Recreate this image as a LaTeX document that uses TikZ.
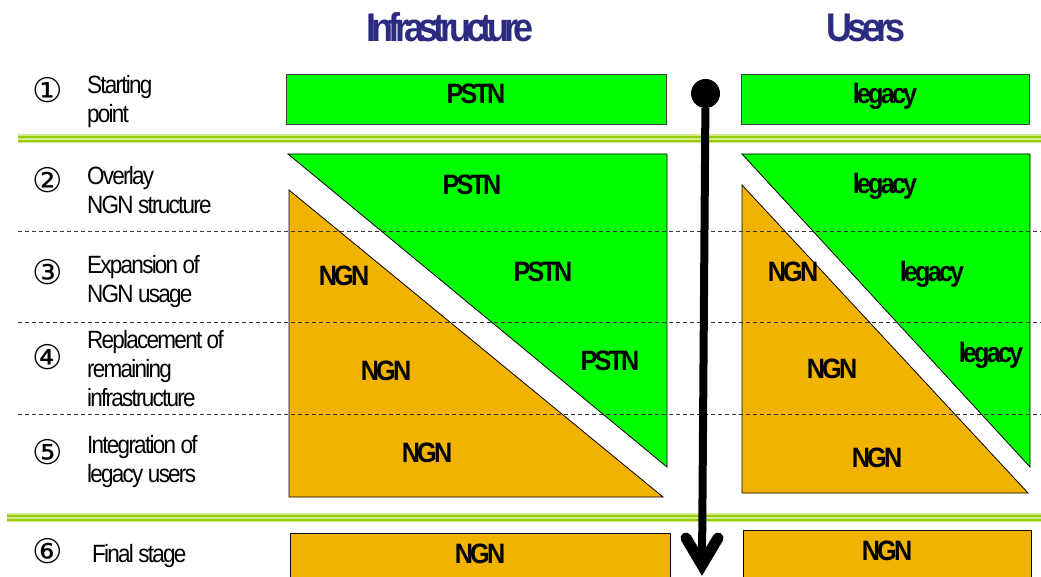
\documentclass[tikz,border=0pt]{standalone}
\usepackage{fontspec}
\setmainfont{Liberation Sans}
\newfontfamily\labelfont[LetterSpace=-7,FakeStretch=0.9]{Liberation Sans}
\newfontfamily\boxfont[LetterSpace=-10,FakeStretch=0.9]{Liberation Sans}
\newfontfamily\titlefont[LetterSpace=-13,FakeStretch=0.9]{Liberation Sans}
\newfontfamily\numfont{DejaVu Sans}
\usepackage{xcolor}
\usepackage{tikz}
\usetikzlibrary{positioning}

\definecolor{pstngreen}{HTML}{00FF00}
\definecolor{ngnorange}{HTML}{F2B200}
\definecolor{titleblue}{HTML}{2B2B80}
\definecolor{rulegreen}{HTML}{99CC00}
\definecolor{rulelight}{HTML}{D2EB8C}

\begin{document}
\begin{tikzpicture}[
  x=1pt, y=-1pt,
  title/.style={font=\titlefont\bfseries\fontsize{40}{40}\selectfont, text=titleblue, inner sep=0pt, text height=29pt, text depth=0pt},
  stagenum/.style={font=\numfont\fontsize{34}{34}\selectfont, inner sep=0pt},
  stagelabel/.style={anchor=north west, align=left, inner sep=0pt, font=\labelfont\fontsize{25}{29}\selectfont},
  box/.style={draw=black!75, line width=0.8pt, minimum height=50pt, inner sep=0pt, font=\boxfont\bfseries\fontsize{28}{28}\selectfont, text height=20pt, text depth=10pt},
  tri/.style={font=\boxfont\bfseries\fontsize{28}{28}\selectfont, inner sep=0pt, text height=20pt, text depth=0pt},
  wedge/.style={draw=black, line width=0.8pt},
  divider/.style={dash pattern=on 4pt off 3pt, line width=0.8pt, black!80},
  shaft/.style={line width=8pt, black},
  head/.style={line width=11pt, line cap=round, line join=miter, black},
]
  \useasboundingbox (0,0) rectangle (1041,577);

  % column titles
  \node[title] (infra) at (450,27) {Infrastructure};
  \node[title] (users) at (866,27) {Users};

  % phase separators
  \fill[rulelight] (18,134.5) rectangle (1041,143.5);
  \fill[rulegreen] (18,136) rectangle (1041,138.5);
  \fill[rulegreen] (18,140) rectangle (1041,142.5);
  \fill[rulelight] (7,513) rectangle (1041,522);
  \fill[rulegreen] (7,514.5) rectangle (1041,517);
  \fill[rulegreen] (7,518.5) rectangle (1041,521);

  % stage 1
  \node[box, fill=pstngreen, minimum width=380pt] (pstnTop) at (476,99) {PSTN};
  \node[box, fill=pstngreen, minimum width=288pt] (legacyTop) at (885,99) {legacy};

  % stages 2-5: migration wedges
  \path[wedge, fill=pstngreen] (288,154) -- (667,154) -- (667,467) -- cycle;
  \path[wedge, fill=ngnorange] (289,190) -- (289,497) -- (663,497) -- cycle;
  \path[wedge, fill=pstngreen] (742,154) -- (1030,154) -- (1030,467) -- cycle;
  \path[wedge, fill=ngnorange] (742,185) -- (742,493) -- (1028,493) -- cycle;

  \node[tri] (pstnA) at (472,185) {PSTN};
  \node[tri] (pstnB) at (543,272) {PSTN};
  \node[tri] (pstnC) at (610,360) {PSTN};
  \node[tri] (ngnA) at (344,276) {NGN};
  \node[tri] (ngnB) at (386,370) {NGN};
  \node[tri] (ngnC) at (427,452) {NGN};
  \node[tri] (legacyA) at (885,184) {legacy};
  \node[tri] (legacyB) at (932,272) {legacy};
  \node[tri] (legacyC) at (991,352) {legacy};
  \node[tri] (ungnA) at (793,271) {NGN};
  \node[tri] (ungnB) at (832,368) {NGN};
  \node[tri] (ungnC) at (877,457) {NGN};

  % stage 6
  \node[box, fill=ngnorange, draw=black, minimum width=380pt] (ngnBottom) at (480,558) {NGN};
  \node[box, fill=ngnorange, draw=black, minimum width=288pt] (ungnBottom) at (887,555) {NGN};

  % stage dividers
  \foreach \y in {231,322,414}
    \draw[divider] (18,\y) -- (1041,\y);

  % stage numbers and names
  \node[stagenum] (n1) at (48,90) {①};
  \node[stagenum] (n2) at (48,180) {②};
  \node[stagenum] (n3) at (48,272) {③};
  \node[stagenum] (n4) at (48,357) {④};
  \node[stagenum] (n5) at (48,452) {⑤};
  \node[stagenum] (n6) at (48,551) {⑥};

  \node[stagelabel] (s1) at (87,75) {Starting\\point};
  \node[stagelabel] (s2) at (87,166) {Overlay\\NGN structure};
  \node[stagelabel] (s3) at (87,255) {Expansion of\\NGN usage};
  \node[stagelabel] (s4) at (87,330) {Replacement of\\remaining\\infrastructure};
  \node[stagelabel] (s5) at (87,435) {Integration of\\legacy users};
  \node[stagelabel] (s6) at (92,544) {Final stage};

  % time arrow
  \node[circle, fill=black, minimum size=29pt, inner sep=0pt] (start) at (705.5,93.5) {};
  \coordinate (finish) at (702,565);
  \draw[shaft] (start) -- (finish);
  \draw[head] (finish) ++(-16,-27) -- (finish) -- ++(16,-27);
\end{tikzpicture}
\end{document}
